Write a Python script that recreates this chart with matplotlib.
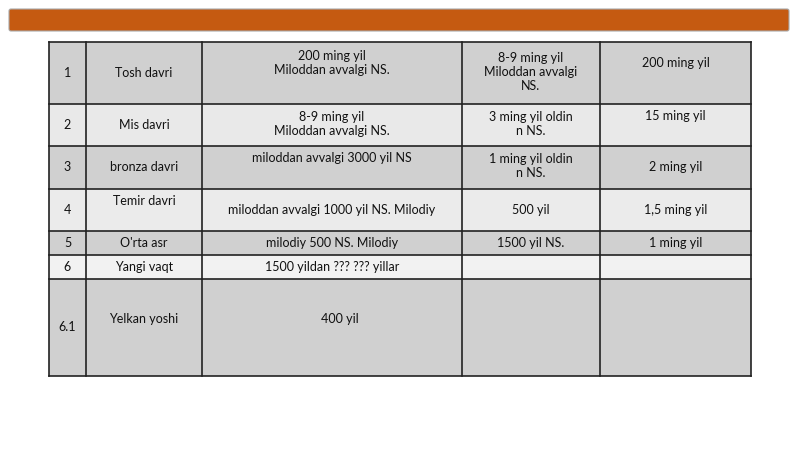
import matplotlib.pyplot as plt
from matplotlib.patches import Rectangle, FancyBboxPatch

plt.rcParams['font.family'] = ['Lato', 'DejaVu Sans']

col_edges = [49, 86, 202, 462, 600, 751]
row_edges = [42, 104, 146, 189, 231, 255, 279, 376]
row_colors = ['#d0d0d0', '#e9e9e9', '#d0d0d0', '#ebebeb', '#d0d0d0', '#f2f2f2', '#d0d0d0']

cells = [
    ["1", "Tosh davri", "200 ming yil\nMiloddan avvalgi NS.", "8-9 ming yil\nMiloddan avvalgi\nNS.", "200 ming yil"],
    ["2", "Mis davri", "8-9 ming yil\nMiloddan avvalgi NS.", "3 ming yil oldin\nn NS.", "15 ming yil"],
    ["3", "bronza davri", "miloddan avvalgi 3000 yil NS", "1 ming yil oldin\nn NS.", "2 ming yil"],
    ["4", "Temir davri", "miloddan avvalgi 1000 yil NS. Milodiy", "500 yil", "1,5 ming yil"],
    ["5", "O'rta asr", "milodiy 500 NS. Milodiy", "1500 yil NS.", "1 ming yil"],
    ["6", "Yangi vaqt", "1500 yildan ??? ??? yillar", "", ""],
    ["6.1", "Yelkan yoshi", "400 yil", "", ""],
]
# vertical centre of each text (pixels)
text_y = [
    [73, 73, 63, 72, 63],
    [125, 125, 124, 124, 116],
    [167, 167, 158, 166, 167],
    [210, 201, 210, 210, 210],
    [243, 243, 243, 243, 243],
    [267, 267, 267, 267, 267],
    [327, 319, 319, 319, 319],
]

fig = plt.figure(figsize=(8, 4.49), dpi=100)
ax = fig.add_axes([0, 0, 1, 1])
ax.set_xlim(0, 800)
ax.set_ylim(449, 0)
ax.axis('off')

# orange header bar
ax.add_patch(FancyBboxPatch((9, 9), 780, 22, boxstyle="round,pad=0,rounding_size=2",
                            facecolor='#c55a11', edgecolor='#a9a9a9', lw=0.8))

for r in range(len(cells)):
    y0, y1 = row_edges[r], row_edges[r + 1]
    ax.add_patch(Rectangle((col_edges[0], y0), col_edges[-1] - col_edges[0], y1 - y0,
                           facecolor=row_colors[r], edgecolor='none'))
    for c in range(5):
        xc = (col_edges[c] + col_edges[c + 1]) / 2
        if r == 6 and c == 2:
            xc = 340
        ax.text(xc, text_y[r][c], cells[r][c], ha='center', va='center',
                fontsize=9, color='#111111', linespacing=1.25)

for y in row_edges:
    ax.plot([col_edges[0], col_edges[-1]], [y, y], color='#222222', lw=1.2)
for x in col_edges:
    ax.plot([x, x], [row_edges[0], row_edges[-1]], color='#222222', lw=1.2)

fig.savefig('out.png', dpi=100)
